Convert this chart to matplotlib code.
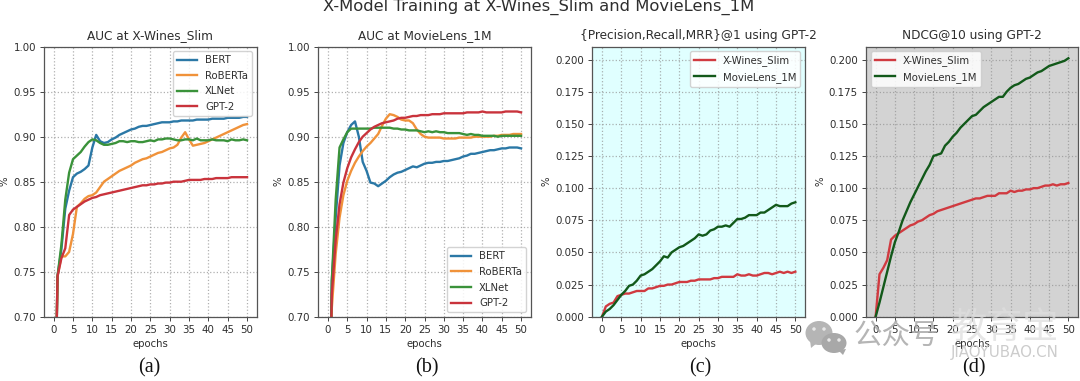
"""X-Model training curves, four panels side by side."""

import matplotlib
matplotlib.use("Agg")
import numpy as np
import matplotlib.pyplot as plt
from matplotlib.patches import Ellipse, Polygon

epochs = list(range(51))

# (a) AUC at X-Wines_Slim
wines_bert = [0.50, 0.745, 0.775, 0.820, 0.840, 0.855, 0.859, 0.861, 0.864, 0.868, 0.888, 0.902, 0.895,
              0.893, 0.894, 0.897, 0.899, 0.902, 0.904, 0.906, 0.908, 0.909, 0.911, 0.912, 0.912, 0.913,
              0.914, 0.915, 0.916, 0.916, 0.916, 0.917, 0.917, 0.918, 0.918, 0.918, 0.918, 0.919, 0.919,
              0.919, 0.919, 0.920, 0.920, 0.920, 0.920, 0.921, 0.921, 0.921, 0.921, 0.922, 0.922]
wines_roberta = [0.50, 0.745, 0.767, 0.767, 0.772, 0.792, 0.822, 0.826, 0.831, 0.834, 0.835, 0.838, 0.844,
                 0.850, 0.853, 0.856, 0.859, 0.862, 0.864, 0.866, 0.868, 0.871, 0.873, 0.875, 0.876, 0.878,
                 0.880, 0.882, 0.883, 0.885, 0.887, 0.888, 0.891, 0.899, 0.905, 0.897, 0.890, 0.891, 0.892,
                 0.893, 0.895, 0.897, 0.899, 0.901, 0.903, 0.905, 0.907, 0.909, 0.911, 0.913, 0.914]
wines_xlnet = [0.50, 0.745, 0.780, 0.830, 0.860, 0.875, 0.879, 0.883, 0.889, 0.894, 0.897, 0.896, 0.893,
               0.891, 0.891, 0.892, 0.893, 0.895, 0.895, 0.894, 0.895, 0.895, 0.894, 0.894, 0.895, 0.896,
               0.895, 0.897, 0.897, 0.898, 0.898, 0.897, 0.896, 0.896, 0.897, 0.897, 0.896, 0.898, 0.896,
               0.896, 0.896, 0.897, 0.896, 0.896, 0.896, 0.895, 0.897, 0.896, 0.896, 0.897, 0.896]
wines_gpt2 = [0.50, 0.745, 0.765, 0.776, 0.813, 0.819, 0.822, 0.825, 0.828, 0.830, 0.832, 0.833, 0.835,
              0.836, 0.837, 0.838, 0.839, 0.840, 0.841, 0.842, 0.843, 0.844, 0.845, 0.846, 0.846, 0.847,
              0.847, 0.848, 0.848, 0.849, 0.849, 0.850, 0.850, 0.850, 0.851, 0.852, 0.852, 0.852, 0.852,
              0.853, 0.853, 0.853, 0.854, 0.854, 0.854, 0.854, 0.855, 0.855, 0.855, 0.855, 0.855]

# (b) AUC at MovieLens_1M
movie_bert = [0.50, 0.74, 0.810, 0.868, 0.893, 0.905, 0.913, 0.917, 0.900, 0.872, 0.862, 0.849, 0.848,
              0.845, 0.848, 0.851, 0.855, 0.858, 0.860, 0.861, 0.863, 0.865, 0.867, 0.866, 0.868, 0.870,
              0.871, 0.871, 0.872, 0.872, 0.873, 0.873, 0.874, 0.875, 0.876, 0.878, 0.879, 0.881, 0.881,
              0.882, 0.883, 0.884, 0.885, 0.885, 0.886, 0.887, 0.887, 0.888, 0.888, 0.888, 0.887]
movie_roberta = [0.50, 0.71, 0.770, 0.810, 0.835, 0.851, 0.862, 0.871, 0.878, 0.884, 0.889, 0.893, 0.898,
                 0.903, 0.912, 0.920, 0.925, 0.924, 0.922, 0.919, 0.918, 0.918, 0.915, 0.908, 0.903, 0.900,
                 0.899, 0.899, 0.899, 0.899, 0.898, 0.898, 0.898, 0.898, 0.899, 0.899, 0.899, 0.899, 0.900,
                 0.900, 0.900, 0.900, 0.900, 0.901, 0.901, 0.902, 0.902, 0.902, 0.903, 0.903, 0.903]
movie_xlnet = [0.50, 0.74, 0.830, 0.888, 0.897, 0.905, 0.909, 0.909, 0.909, 0.909, 0.909, 0.909, 0.910,
               0.910, 0.910, 0.910, 0.910, 0.909, 0.909, 0.908, 0.908, 0.907, 0.907, 0.907, 0.906, 0.905,
               0.906, 0.905, 0.906, 0.905, 0.905, 0.904, 0.904, 0.904, 0.904, 0.903, 0.902, 0.903, 0.902,
               0.902, 0.901, 0.901, 0.901, 0.901, 0.900, 0.901, 0.901, 0.901, 0.901, 0.901, 0.901]
movie_gpt2 = [0.50, 0.725, 0.785, 0.825, 0.849, 0.865, 0.877, 0.886, 0.894, 0.900, 0.904, 0.908, 0.911,
              0.913, 0.915, 0.916, 0.917, 0.918, 0.920, 0.921, 0.921, 0.922, 0.923, 0.923, 0.924, 0.924,
              0.924, 0.925, 0.925, 0.925, 0.926, 0.926, 0.926, 0.926, 0.926, 0.926, 0.927, 0.927, 0.927,
              0.927, 0.928, 0.927, 0.927, 0.927, 0.927, 0.927, 0.928, 0.928, 0.928, 0.928, 0.927]

# (c) {Precision,Recall,MRR}@1
prec_wines = [0.000, 0.008, 0.010, 0.011, 0.016, 0.017, 0.018, 0.018, 0.019, 0.020, 0.020, 0.020, 0.022,
              0.022, 0.023, 0.024, 0.024, 0.025, 0.025, 0.026, 0.027, 0.027, 0.027, 0.028, 0.028, 0.029,
              0.029, 0.029, 0.029, 0.030, 0.030, 0.031, 0.031, 0.031, 0.031, 0.033, 0.032, 0.032, 0.033,
              0.032, 0.032, 0.033, 0.034, 0.034, 0.033, 0.034, 0.035, 0.034, 0.035, 0.034, 0.035]
prec_movie = [0.000, 0.004, 0.006, 0.009, 0.013, 0.017, 0.020, 0.024, 0.025, 0.028, 0.032, 0.033, 0.035,
              0.037, 0.040, 0.043, 0.047, 0.046, 0.050, 0.052, 0.054, 0.055, 0.057, 0.059, 0.061, 0.064,
              0.063, 0.064, 0.067, 0.068, 0.070, 0.070, 0.071, 0.070, 0.073, 0.076, 0.076, 0.077, 0.079,
              0.079, 0.079, 0.081, 0.081, 0.083, 0.085, 0.087, 0.086, 0.086, 0.086, 0.088, 0.089]

# (d) NDCG@10
ndcg_wines = [0.000, 0.033, 0.038, 0.044, 0.060, 0.063, 0.065, 0.067, 0.069, 0.071, 0.072, 0.074, 0.075,
              0.077, 0.079, 0.080, 0.082, 0.083, 0.084, 0.085, 0.086, 0.087, 0.088, 0.089, 0.090, 0.091,
              0.092, 0.092, 0.093, 0.094, 0.094, 0.094, 0.096, 0.096, 0.096, 0.098, 0.097, 0.098, 0.098,
              0.099, 0.099, 0.100, 0.100, 0.101, 0.102, 0.102, 0.103, 0.102, 0.103, 0.103, 0.104]
ndcg_movie = [0.000, 0.011, 0.023, 0.035, 0.047, 0.058, 0.066, 0.075, 0.082, 0.089, 0.095, 0.101, 0.107,
              0.113, 0.118, 0.125, 0.126, 0.127, 0.133, 0.136, 0.140, 0.143, 0.147, 0.150, 0.153, 0.156,
              0.157, 0.160, 0.163, 0.165, 0.167, 0.169, 0.171, 0.171, 0.175, 0.178, 0.180, 0.181, 0.183,
              0.185, 0.186, 0.188, 0.190, 0.191, 0.193, 0.195, 0.196, 0.197, 0.198, 0.199, 0.201]

MODEL_COLORS = ["#2b78a6", "#f0923a", "#3a923a", "#c9333c"]
TEXT = "#2e2e2e"

plt.rcParams.update({"font.family": "DejaVu Sans", "text.color": TEXT, "axes.labelcolor": TEXT,
                     "xtick.labelcolor": TEXT, "ytick.labelcolor": TEXT, "axes.edgecolor": "#555555",
                     "xtick.color": "#444444", "ytick.color": "#444444"})

fig = plt.figure(figsize=(10.8, 3.81), dpi=100)
W, H = 1080.0, 381.0


def panel(left, right, title, series, labels, colors, ylim, yticks, ylabel_x, bg=None, loc="best"):
    ax = fig.add_axes([left / W, 1 - 316.7 / H, (right - left) / W, 270 / H])
    if bg:
        ax.set_facecolor(bg)
    for values, label, color in zip(series, labels, colors):
        ax.plot(epochs, values, color=color, lw=1.7, label=label)
    ax.set_xlim(-2.5, 52.5)
    ax.set_ylim(*ylim)
    ax.set_xticks(np.arange(0, 51, 5))
    ax.set_yticks(yticks)
    ax.set_yticklabels([f"{t:.3f}" if ylim[0] == 0 else f"{t:.2f}" for t in yticks])
    ax.tick_params(labelsize=7.4, length=2.6, width=0.7, pad=3.2)
    ax.grid(True, ls=":", color="#8f8f8f", lw=0.9, alpha=0.7)
    ax.set_axisbelow(True)
    ax.set_title(title, fontsize=8.7, pad=5.5)
    ax.set_xlabel("epochs", fontsize=7.3, labelpad=3.2)
    fig.text(ylabel_x / W, 1 - 181.7 / H, "%", fontsize=7.3, rotation=90, ha="center", va="center")
    for s in ax.spines.values():
        s.set_linewidth(0.9)
    ax.legend(loc=loc, fontsize=7.3, framealpha=0.85, borderpad=0.4, labelspacing=0.55,
              handlelength=2.0, handletextpad=0.8, borderaxespad=0.45)
    return ax


auc_ticks = [0.70, 0.75, 0.80, 0.85, 0.90, 0.95, 1.00]
rank_ticks = [0.000, 0.025, 0.050, 0.075, 0.100, 0.125, 0.150, 0.175, 0.200]
models = ["BERT", "RoBERTa", "XLNet", "GPT-2"]
datasets = ["X-Wines_Slim", "MovieLens_1M"]
pair_colors = ["#d03a40", "#12591a"]

panel(44, 256.7, "AUC at X-Wines_Slim", [wines_bert, wines_roberta, wines_xlnet, wines_gpt2],
      models, MODEL_COLORS, (0.70, 1.00), auc_ticks, 4, loc="upper right")
panel(318.3, 530.7, "AUC at MovieLens_1M", [movie_bert, movie_roberta, movie_xlnet, movie_gpt2],
      models, MODEL_COLORS, (0.70, 1.00), auc_ticks, 278, loc="lower right")
panel(592.3, 805, "{Precision,Recall,MRR}@1 using GPT-2", [prec_wines, prec_movie],
      datasets, pair_colors, (0.0, 0.21), rank_ticks, 546, bg="#e0ffff", loc="upper right")
panel(866, 1078, "NDCG@10 using GPT-2", [ndcg_wines, ndcg_movie],
      datasets, pair_colors, (0.0, 0.21), rank_ticks, 820, bg="#d3d3d3", loc="upper left")

fig.text(539 / W, 1 - 7 / H, "X-Model Training at X-Wines_Slim and MovieLens_1M", fontsize=11.8,
         ha="center", va="center")

for label, x in zip(["(a)", "(b)", "(c)", "(d)"], [149, 427, 700, 974]):
    fig.text(x / W, 1 - 368 / H, label, fontsize=14.5, family="Liberation Serif", color="#111111",
             ha="center", va="center")


# watermark: chat icon, then the account name over the axis
def px(x, y):
    return x / W, 1 - y / H


def bubble(cx, cy, w, h, tail, color):
    fig.add_artist(Ellipse(px(cx, cy), w / W, h / H, transform=fig.transFigure, fc=color, ec="none"))
    fig.add_artist(Polygon([px(*p) for p in tail], transform=fig.transFigure, fc=color, ec="none"))


bubble(819, 333, 27, 24, [(810, 340), (817, 343), (811, 348)], "#b5b5b5")
bubble(834, 343, 25, 20, [(838, 350), (846, 349), (843, 355)], "#a8a8a8")
for ex, ey in [(814, 329), (824, 329), (829, 340), (839, 340)]:
    fig.add_artist(Ellipse(px(ex, ey), 3.5 / W, 3.5 / H, transform=fig.transFigure, fc="#e8e8e8", ec="none"))

cjk = ["Noto Sans CJK SC", "DejaVu Sans"]
fig.text(896 / W, 1 - 336 / H, "公众号", fontsize=20.5, family=cjk, color="#a8a8a8", alpha=0.85,
         ha="center", va="center")
fig.text(1005 / W, 1 - 329 / H, "教育宝", fontsize=26, family=cjk, color="#dedede", alpha=0.75,
         ha="center", va="center")
fig.text(1005 / W, 1 - 352 / H, "JIAOYUBAO.CN", fontsize=10.8, color="#cccccc", ha="center", va="center")

fig.savefig("out.png", dpi=100)
